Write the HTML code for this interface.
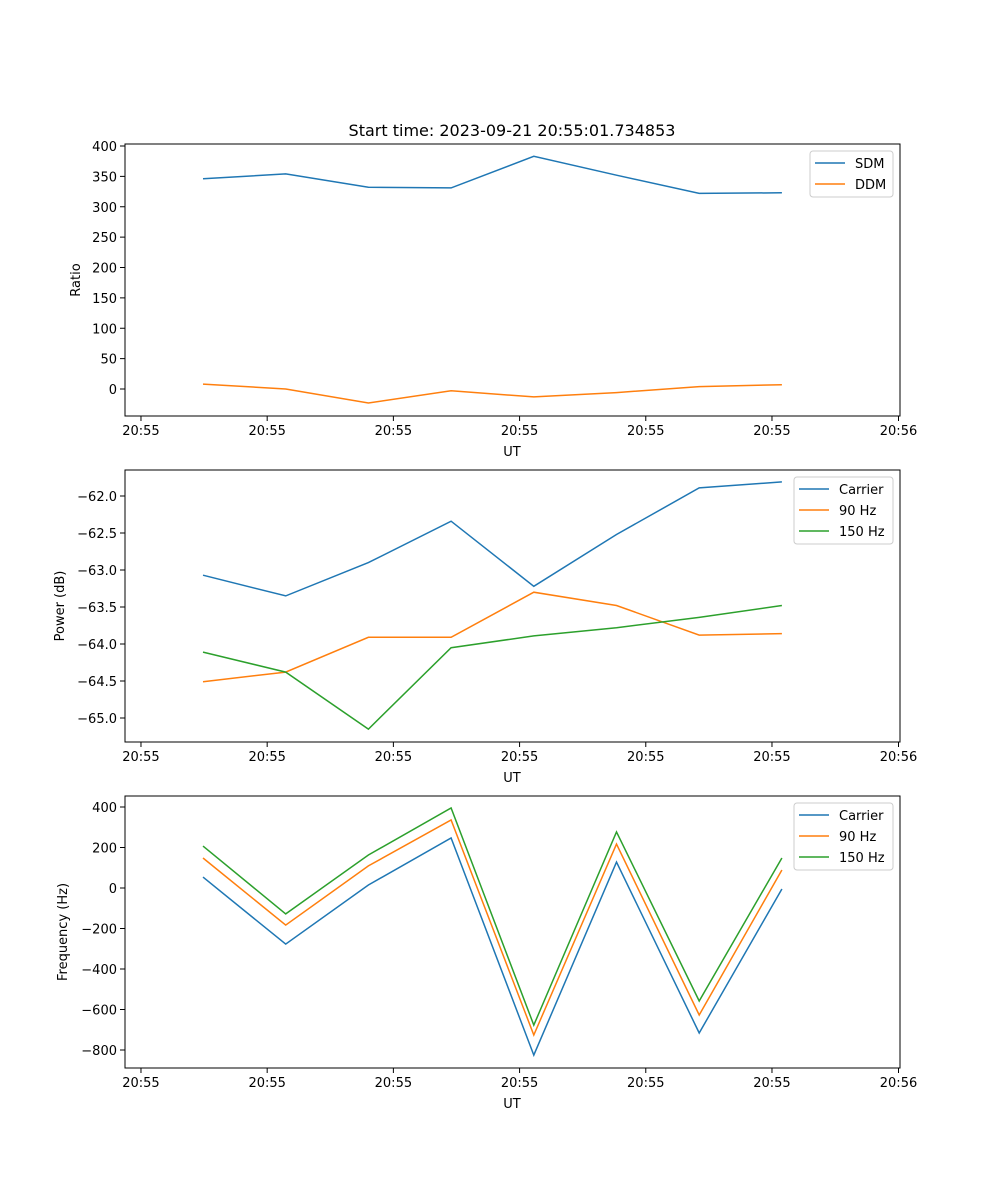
<!DOCTYPE html>
<html><head><meta charset="utf-8"><style>
body{margin:0;background:#fff}
svg{display:block;font-family:"DejaVu Sans","Liberation Sans",sans-serif}
</style></head><body>
<svg id="fig" width="1000" height="1200" viewBox="0 0 1000 1200" xmlns="http://www.w3.org/2000/svg">
<rect width="1000" height="1200" fill="#fff"/>
<text x="512" y="136" text-anchor="middle" font-size="16">Start time: 2023-09-21 20:55:01.734853</text>
</svg>
<script>
// shared x data (sample index) and tick positions in index units
const xIdx = [0,1,2,3,4,5,6,7];
const xTicks = [-0.75,0.776,2.302,3.828,5.354,6.88,8.41];
const xTickLabels = ["20:55","20:55","20:55","20:55","20:55","20:55","20:56"];

// panel 1
const sdm = [346,354,332,331,383,352,322,323];
const ddm = [8,0,-23,-3,-13,-6,4,7];
const p1Ticks = [0,50,100,150,200,250,300,350,400];
// panel 2
const pwrCarrier = [-63.07,-63.35,-62.9,-62.34,-63.22,-62.52,-61.89,-61.81];
const pwr90 = [-64.51,-64.38,-63.91,-63.91,-63.3,-63.48,-63.88,-63.86];
const pwr150 = [-64.11,-64.38,-65.15,-64.05,-63.89,-63.78,-63.64,-63.48];
const p2Ticks = [-65.0,-64.5,-64.0,-63.5,-63.0,-62.5,-62.0];
// panel 3
const frqCarrier = [54,-277,15,247,-825,128,-716,-5];
const frq90 = [148,-183,109,336,-726,217,-627,89];
const frq150 = [207,-128,163,395,-677,277,-558,148];
const p3Ticks = [-800,-600,-400,-200,0,200,400];

const NS="http://www.w3.org/2000/svg";
const svg=document.getElementById('fig');
const L=125,R=900;
const xs=v=>203+82.7*v;
function el(tag,attrs,parent){const e=document.createElementNS(NS,tag);for(const k in attrs)e.setAttribute(k,attrs[k]);(parent||svg).appendChild(e);return e;}
const C=['#1f77b4','#ff7f0e','#2ca02c'];

function panel(name,top,bot,y0v,y0p,y1v,y1p,yTicks,fmt,ylabel,series,names,legend){
  const g=el('g',{});
  
  
  const ys=v=>y0p+(v-y0v)*(y1p-y0p)/(y1v-y0v);
  xTicks.forEach((t,i)=>{
    const x=xs(t);
    const tk=el('line',{x1:x,x2:x,y1:bot,y2:bot+5,stroke:'#000','stroke-width':1},g);
    
    
    const tx=el('text',{x:x,y:bot+19,'text-anchor':'middle','font-size':13},g);
    tx.textContent=xTickLabels[i];
    
    
  });
  yTicks.forEach(v=>{
    const y=ys(v);
    const tk=el('line',{x1:L-5,x2:L,y1:y,y2:y,stroke:'#000','stroke-width':1},g);
    
    
    const tx=el('text',{x:L-8,y:y+5,'text-anchor':'end','font-size':13},g);
    tx.textContent=fmt(v);
    
    
  });
  const xl=el('text',{x:512,y:bot+40,'text-anchor':'middle','font-size':13},g);
  xl.textContent='UT';
  
  
  const yl=el('text',{x:0,y:0,'text-anchor':'middle','font-size':13,transform:`translate(${legend.ylx},${(top+bot)/2}) rotate(-90)`},g);
  yl.textContent=ylabel;
  
  
  series.forEach((s,k)=>{
    const pts=s.map((v,i)=>xs(xIdx[i]).toFixed(1)+','+ys(v).toFixed(1)).join(' ');
    const pl=el('polyline',{points:pts,fill:'none',stroke:C[k],'stroke-width':1.5},g);
    
    
  });
  const fr=el('rect',{x:L,y:top,width:R-L,height:bot-top,fill:'none',stroke:'#000','stroke-width':1},g);
  
  
  const lg=el('g',{},g);
  
  
  el('rect',{x:legend.x,y:top+7,width:893-legend.x,height:names.length*21+4,rx:3,fill:'#fff','fill-opacity':0.8,stroke:'#ccc'},lg);
  names.forEach((n,k)=>{
    const y=top+19+21*k;
    el('line',{x1:legend.x+5,x2:legend.x+35,y1:y,y2:y,stroke:C[k],'stroke-width':1.5},lg);
    const t=el('text',{x:legend.x+45,y:y+5,'font-size':13},lg);
    t.textContent=n;
    
    
  });
}
panel('ratio-panel',144,416,0,389,400,146,p1Ticks,v=>String(v),'Ratio',[sdm,ddm],['SDM','DDM'],{x:810,ylx:80});
panel('power-panel',470,742,-62,496,-65,718,p2Ticks,v=>v.toFixed(1).replace('-','\u2212'),'Power (dB)',[pwrCarrier,pwr90,pwr150],['Carrier','90 Hz','150 Hz'],{x:794,ylx:64});
panel('frequency-panel',796,1068,0,888,400,807,p3Ticks,v=>String(v).replace('-','\u2212'),'Frequency (Hz)',[frqCarrier,frq90,frq150],['Carrier','90 Hz','150 Hz'],{x:794,ylx:67});
</script>
</body></html>
